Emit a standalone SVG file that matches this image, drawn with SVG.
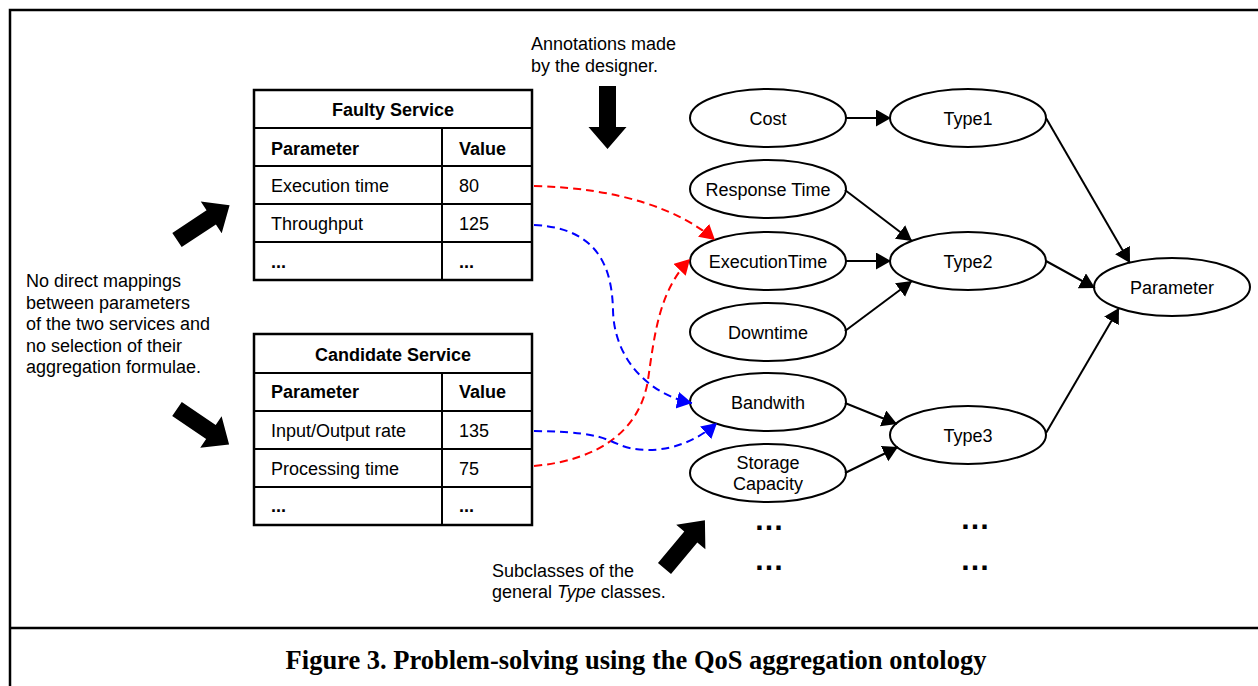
<svg xmlns="http://www.w3.org/2000/svg" width="1258" height="686" viewBox="0 0 1258 686">
<style>
.t{font-family:"Liberation Sans",Arial,sans-serif;font-size:18px;fill:#000}
.b{font-weight:bold}
.m{text-anchor:middle}
.cell{fill:#fff;stroke:#000;stroke-width:2}
.tbl{fill:none;stroke:#000;stroke-width:2.5}
.el{fill:#fff;stroke:#000;stroke-width:2}
.ln{fill:none;stroke:#000;stroke-width:2}
.rd{fill:none;stroke:#f00;stroke-width:2;stroke-dasharray:8 5}
.bl{fill:none;stroke:#00f;stroke-width:2;stroke-dasharray:8 5}
.dots{font-family:"Liberation Sans",Arial,sans-serif;font-size:30px;font-weight:bold}
.cap{font-family:"Liberation Serif","Times New Roman",serif;font-size:26.5px;font-weight:bold;text-anchor:middle}
</style>
<defs>
<marker id="ak" markerUnits="userSpaceOnUse" markerWidth="16" markerHeight="18" refX="15" refY="8.5" orient="auto"><path d="M0,0 L15,8.5 L0,17 z" fill="#000"/></marker>
<marker id="ar" markerUnits="userSpaceOnUse" markerWidth="16" markerHeight="18" refX="15" refY="8.5" orient="auto"><path d="M0,0 L15,8.5 L0,17 z" fill="#f00"/></marker>
<marker id="ab" markerUnits="userSpaceOnUse" markerWidth="16" markerHeight="18" refX="15" refY="8.5" orient="auto"><path d="M0,0 L15,8.5 L0,17 z" fill="#00f"/></marker>
<polygon id="big" points="0,-8.5 41,-8.5 41,-19 63,0 41,19 41,8.5 0,8.5" fill="#000"/>
</defs>
<rect width="1258" height="686" fill="#fff"/>
<g id="frame">
<rect x="10" y="10" width="1262" height="700" fill="none" stroke="#000" stroke-width="2.5"/>
<line x1="10" y1="628" x2="1258" y2="628" stroke="#000" stroke-width="2.5"/>
</g>
<g id="faulty-table">
<rect class="cell" x="254" y="90" width="278" height="38"/>
<rect class="cell" x="254" y="128" width="188" height="38"/><rect class="cell" x="442" y="128" width="90" height="38"/>
<rect class="cell" x="254" y="166" width="188" height="38"/><rect class="cell" x="442" y="166" width="90" height="38"/>
<rect class="cell" x="254" y="204" width="188" height="38"/><rect class="cell" x="442" y="204" width="90" height="38"/>
<rect class="cell" x="254" y="242" width="188" height="38"/><rect class="cell" x="442" y="242" width="90" height="38"/>
<rect class="tbl" x="254" y="90" width="278" height="190"/>
<text class="t b m" x="393" y="116">Faulty Service</text>
<text class="t b" x="271" y="155">Parameter</text><text class="t b" x="459" y="155">Value</text>
<text class="t" x="271" y="192">Execution time</text><text class="t" x="459" y="192">80</text>
<text class="t" x="271" y="230">Throughput</text><text class="t" x="459" y="230">125</text>
<text class="t b" x="271" y="268">...</text><text class="t b" x="459" y="268">...</text>
</g>
<g id="candidate-table">
<rect class="cell" x="254" y="334" width="278" height="39"/>
<rect class="cell" x="254" y="373" width="188" height="38"/><rect class="cell" x="442" y="373" width="90" height="38"/>
<rect class="cell" x="254" y="411" width="188" height="38"/><rect class="cell" x="442" y="411" width="90" height="38"/>
<rect class="cell" x="254" y="449" width="188" height="38"/><rect class="cell" x="442" y="449" width="90" height="38"/>
<rect class="cell" x="254" y="487" width="188" height="38"/><rect class="cell" x="442" y="487" width="90" height="38"/>
<rect class="tbl" x="254" y="334" width="278" height="191"/>
<text class="t b m" x="393" y="361">Candidate Service</text>
<text class="t b" x="271" y="398">Parameter</text><text class="t b" x="459" y="398">Value</text>
<text class="t" x="271" y="437">Input/Output rate</text><text class="t" x="459" y="437">135</text>
<text class="t" x="271" y="475">Processing time</text><text class="t" x="459" y="475">75</text>
<text class="t b" x="271" y="512">...</text><text class="t b" x="459" y="512">...</text>
</g>
<g id="n-cost"><ellipse class="el" cx="768" cy="118" rx="78" ry="29"/><text class="t m" x="768" y="124.5">Cost</text></g>
<g id="n-type1"><ellipse class="el" cx="968" cy="118" rx="78" ry="29"/><text class="t m" x="968" y="124.5">Type1</text></g>
<g id="n-response"><ellipse class="el" cx="768" cy="189" rx="78" ry="29"/><text class="t m" x="768" y="195.5">Response Time</text></g>
<g id="n-exec"><ellipse class="el" cx="768" cy="261" rx="78" ry="29"/><text class="t m" x="768" y="267.5">ExecutionTime</text></g>
<g id="n-type2"><ellipse class="el" cx="968" cy="261" rx="78" ry="29"/><text class="t m" x="968" y="267.5">Type2</text></g>
<g id="n-param"><ellipse class="el" cx="1172" cy="287" rx="78" ry="29"/><text class="t m" x="1172" y="293.5">Parameter</text></g>
<g id="n-downtime"><ellipse class="el" cx="768" cy="332" rx="78" ry="29"/><text class="t m" x="768" y="338.5">Downtime</text></g>
<g id="n-bandwith"><ellipse class="el" cx="768" cy="402" rx="78" ry="29"/><text class="t m" x="768" y="408.5">Bandwith</text></g>
<g id="n-type3"><ellipse class="el" cx="968" cy="435" rx="78" ry="29"/><text class="t m" x="968" y="441.5">Type3</text></g>
<g id="n-storage"><ellipse class="el" cx="768" cy="473" rx="78" ry="29"/><text class="t m" x="768" y="469">Storage</text><text class="t m" x="768" y="490">Capacity</text></g>
<g id="connectors">
<path class="ln" d="M846,118 L891,118" marker-end="url(#ak)"/>
<path class="ln" d="M1046,118 L1130,263" marker-end="url(#ak)"/>
<path class="ln" d="M845,190 L912,241" marker-end="url(#ak)"/>
<path class="ln" d="M846,261 L891,261" marker-end="url(#ak)"/>
<path class="ln" d="M845,331 L912,281" marker-end="url(#ak)"/>
<path class="ln" d="M1046,261 L1095,288" marker-end="url(#ak)"/>
<path class="ln" d="M845,403 L897,424" marker-end="url(#ak)"/>
<path class="ln" d="M845,473 L898,447" marker-end="url(#ak)"/>
<path class="ln" d="M1046,433 L1119,308" marker-end="url(#ak)"/>
<path class="rd" d="M534,186 C620,188 680,210 715,240" marker-end="url(#ar)"/>
<path class="bl" d="M534,225 C600,228 612,270 613,310 C614,360 650,395 692,403" marker-end="url(#ab)"/>
<path class="rd" d="M534,466 C600,460 640,430 648,380 C655,330 660,290 690,259" marker-end="url(#ar)"/>
<path class="bl" d="M534,431 C590,432 600,436 620,445 C640,453 680,455 717,423" marker-end="url(#ab)"/>
</g>
<g id="block-arrows">
<use href="#big" transform="translate(607.5,86) rotate(90)"/>
<use href="#big" transform="translate(177,240) rotate(-33.4)"/>
<use href="#big" transform="translate(177,409) rotate(34.2)"/>
<use href="#big" transform="translate(664.5,568.5) rotate(-50.1)"/>
</g>
<g id="annotations">
<text class="t" x="531" y="50">Annotations made</text>
<text class="t" x="531" y="72">by the designer.</text>
<text class="t" x="26" y="287">No direct mappings</text>
<text class="t" x="26" y="308.5">between parameters</text>
<text class="t" x="26" y="330">of the two services and</text>
<text class="t" x="26" y="351.5">no selection of their</text>
<text class="t" x="26" y="373">aggregation formulae.</text>
<text class="t" x="492" y="577">Subclasses of the</text>
<text class="t" x="492" y="598">general <tspan font-style="italic">Type</tspan> classes.</text>
<text class="dots" x="754" y="530">…</text>
<text class="dots" x="754" y="570">…</text>
<text class="dots" x="960" y="529">…</text>
<text class="dots" x="960" y="570">…</text>
</g>
<text class="cap" x="636" y="669">Figure 3. Problem-solving using the QoS aggregation ontology</text>
</svg>
